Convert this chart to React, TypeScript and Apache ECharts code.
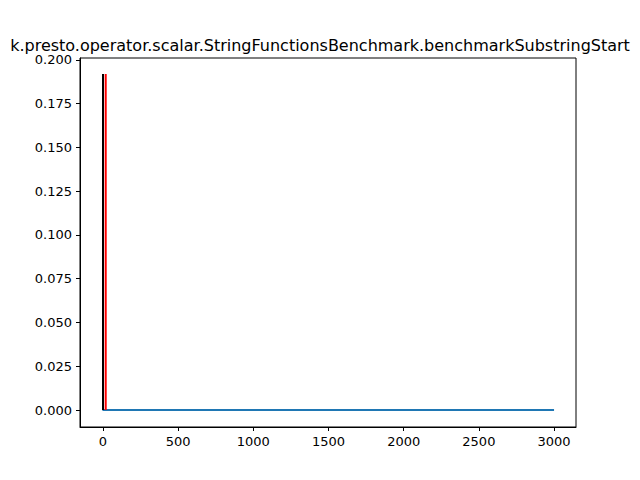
import React, { useEffect, useRef } from "react";
import * as echarts from "echarts";

const titleText = "k.presto.operator.scalar.StringFunctionsBenchmark.benchmarkSubstringStart";
const blueLine = [[0, 0.192], [0, 0], [3000, 0]];
const blackLine = [[0, 0], [0, 0.192]];
const redLine = [[18, 0], [18, 0.192]];
const xTicks = [0, 500, 1000, 1500, 2000, 2500, 3000];
const yTicks = [0, 0.025, 0.05, 0.075, 0.1, 0.125, 0.15, 0.175, 0.2];

export default function App() {
  const ref = useRef<HTMLDivElement>(null);
  useEffect(() => {
    const chart = echarts.init(ref.current!, null, { renderer: "svg" });
    const ax = {
      axisLine: { show: true, onZero: false, lineStyle: { color: "#000" } },
      axisTick: { show: true, length: 4, lineStyle: { color: "#000" } },
      axisLabel: { color: "#000", fontSize: 13, fontFamily: "DejaVu Sans" },
      splitLine: { show: false },
    };
    chart.setOption({
      animation: false,
      graphic: [
        { type: "text", x: 320, y: 45, style: { text: titleText, fontSize: 16, fontFamily: "DejaVu Sans", fill: "#000", textAlign: "center", textVerticalAlign: "middle" } },
        { type: "rect", shape: { x: 80, y: 58, width: 496, height: 369 }, style: { fill: "none", stroke: "#000", lineWidth: 1 }, z: 10 },
      ],
      grid: { left: 80, top: 58, width: 496, height: 369 },
      xAxis: { type: "value", min: -153, max: 3146, ...ax,
        axisLabel: { ...ax.axisLabel, customValues: xTicks, formatter: (v: number) => String(v) },
        axisTick: { ...ax.axisTick, customValues: xTicks } },
      yAxis: { type: "value", min: -0.0097, max: 0.2011, ...ax,
        axisLabel: { ...ax.axisLabel, customValues: yTicks, formatter: (v: number) => v.toFixed(3) },
        axisTick: { ...ax.axisTick, customValues: yTicks } },
      series: [
        { type: "line", data: blueLine, symbol: "none", lineStyle: { color: "#1f77b4", width: 2 } },
        { type: "line", data: blackLine, symbol: "none", lineStyle: { color: "#000", width: 2 } },
        { type: "line", data: redLine, symbol: "none", lineStyle: { color: "#ff0000", width: 2 } },
      ],
    });
    return () => chart.dispose();
  }, []);
  return <div ref={ref} style={{ width: 640, height: 480, position: "absolute", left: 0, top: 0 }} />;
}
